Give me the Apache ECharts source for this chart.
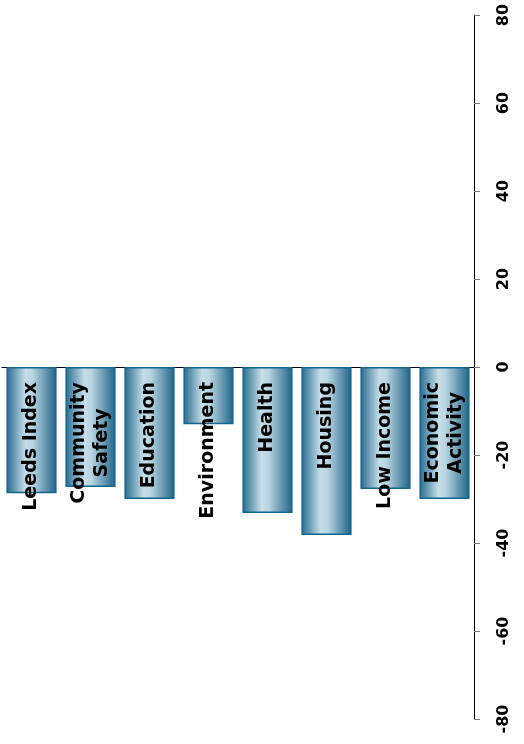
<!DOCTYPE html>
<html>
<head>
<meta charset="utf-8">
<script src="https://cdn.jsdelivr.net/npm/echarts@6/dist/echarts.min.js"></script>
<style>
html,body{margin:0;padding:0;background:#fff;}
#chart{width:524px;height:744px;}
</style>
</head>
<body>
<div id="chart"></div>
<script>
var categories = ['Leeds Index', 'Community\nSafety', 'Education', 'Environment', 'Health', 'Housing', 'Low Income', 'Economic\nActivity'];
var values = [-28.7, -27.3, -30.0, -13.0, -33.2, -38.2, -27.7, -30.0];
var axisMin = -80;
var axisMax = 80;
var axisStep = 20;

var chart = echarts.init(document.getElementById('chart'));
var font = 'DejaVu Sans, Verdana, sans-serif';
chart.setOption({
  animation: false,
  backgroundColor: '#ffffff',
  grid: { left: 2, right: 50, top: 15, bottom: 25, containLabel: false },
  xAxis: {
    type: 'category',
    data: categories,
    axisLine: { onZero: true, lineStyle: { color: '#000', width: 1 } },
    axisTick: { show: false },
    axisLabel: { show: false },
    splitLine: { show: false }
  },
  yAxis: {
    type: 'value',
    position: 'right',
    min: axisMin,
    max: axisMax,
    interval: axisStep,
    axisLine: { show: true, lineStyle: { color: '#000', width: 1 } },
    axisTick: { show: true, inside: false, length: 6, lineStyle: { color: '#777' } },
    splitLine: { show: false },
    axisLabel: {
      rotate: 90,
      margin: 22,
      color: '#000',
      fontFamily: font,
      fontWeight: 'bold',
      fontSize: 16
    }
  },
  series: [{
    type: 'bar',
    data: values,
    barWidth: '85%',
    itemStyle: {
      color: new echarts.graphic.LinearGradient(0, 0, 1, 0, [
        { offset: 0, color: '#256a8f' },
        { offset: 0.38, color: '#c6dee8' },
        { offset: 0.52, color: '#b8d5e1' },
        { offset: 1, color: '#1f6387' }
      ]),
      borderColor: '#14658c',
      borderWidth: 1.5
    },
    label: {
      show: true,
      position: 'insideTop',
      distance: 15,
      rotate: 90,
      align: 'right',
      verticalAlign: 'middle',
      formatter: function (p) {
        return p.name.split('\n').map(function (l) { return '{c|' + l + '}'; }).join('\n');
      },
      rich: {
        c: {
          align: 'center',
          color: '#000',
          fontFamily: font,
          fontWeight: 'bold',
          fontSize: 19,
          lineHeight: 23
        }
      }
    }
  }]
});
</script>
</body>
</html>
